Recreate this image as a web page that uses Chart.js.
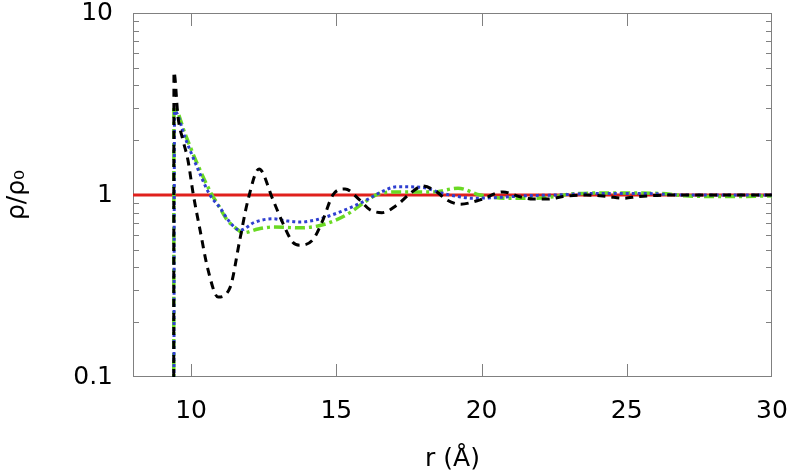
<!DOCTYPE html>
<html lang="en">
<head>
    <meta charset="UTF-8">
    <title>Density profile rho/rho0</title>
    <script src="https://cdn.jsdelivr.net/npm/chart.js"></script>
    <style>
        html, body { margin: 0; padding: 0; background: #fff; }
        #wrap { width: 792px; height: 472px; }
    </style>
</head>
<body>
    <div id="wrap"><canvas id="rhoChart" width="792" height="472"></canvas></div>
    <script>
        // axis ticks
        const xTicks = [10, 15, 20, 25, 30];
        const yTicks = [0.1, 1, 10];
        const yMinorTicks = [0.2, 0.3, 0.4, 0.5, 0.6, 0.7, 0.8, 0.9, 2, 3, 4, 5, 6, 7, 8, 9];

        // reference line rho/rho0 = 1
        const refX = [8, 30];
        const refY = [1, 1];

        // black dashed curve
        const blackX = [9.40, 9.41, 9.55, 9.72, 9.89, 10.07, 10.31, 10.58, 10.93, 11.34, 11.68, 11.96, 12.34, 12.82, 13.16, 13.5, 13.75, 14.2, 14.54, 14.88, 15.3, 15.8, 16.16, 16.57, 17.09, 17.54, 17.98, 18.46, 18.8, 19.26, 19.95, 20.74, 21.3, 21.77, 22.3, 22.8, 23.6, 24.35, 24.87, 25.4, 26.5, 28, 30];
        const blackY = [0.01, 4.74, 2.68, 2.0, 1.56, 1.02, 0.64, 0.39, 0.275, 0.31, 0.57, 0.94, 1.39, 0.94, 0.70, 0.55, 0.53, 0.57, 0.73, 1.0, 1.08, 0.94, 0.83, 0.80, 0.88, 1.02, 1.12, 1.04, 0.94, 0.89, 0.94, 1.04, 0.98, 0.95, 0.95, 0.98, 1.0, 0.98, 0.96, 0.98, 1.0, 1.0, 1.0];

        // blue dotted curve
        const blueX = [9.40, 9.43, 9.8, 10.2, 10.65, 11.0, 11.3, 11.68, 12.2, 12.82, 13.3, 13.75, 14.3, 14.88, 15.47, 16.05, 16.5, 17.09, 17.98, 18.57, 19.2, 19.7, 20.6, 21.5, 22.5, 24, 25.5, 27, 28.5, 30];
        const blueY = [0.01, 2.9, 2.05, 1.43, 1.0, 0.85, 0.72, 0.64, 0.71, 0.74, 0.72, 0.71, 0.73, 0.78, 0.85, 0.94, 1.03, 1.11, 1.10, 1.03, 0.98, 0.96, 0.97, 0.99, 1.0, 1.02, 1.02, 1.0, 1.0, 1.0];

        // green dash-dot curve
        const greenX = [9.40, 9.41, 9.8, 10.2, 10.72, 10.9, 11.24, 11.58, 11.79, 12.3, 12.82, 13.75, 14.44, 15.0, 15.47, 16.0, 16.5, 17.2, 18.33, 19.19, 19.95, 20.9, 21.8, 22.5, 23.0, 24.0, 25.0, 26.1, 27, 28.5, 30];
        const greenY = [0.01, 3.05, 2.15, 1.5, 1.0, 0.90, 0.73, 0.65, 0.62, 0.65, 0.667, 0.66, 0.68, 0.73, 0.80, 0.92, 1.02, 1.04, 1.04, 1.09, 1.0, 0.96, 0.96, 0.98, 1.01, 1.025, 1.025, 1.02, 0.99, 0.98, 0.99];

        const toPoints = (xs, ys) => xs.map((x, i) => ({ x: x, y: ys[i] }));

        const frameColor = '#808080';
        const tickFont = { family: 'DejaVu Sans', size: 25, lineHeight: 1 };
        const titleFont = { family: 'DejaVu Sans', size: 25, lineHeight: 1 };

        // frame with inward ticks on all four sides
        const framePlugin = {
            id: 'frame',
            beforeDatasetsDraw(chart) {
                const { ctx, chartArea: a, scales: { x, y } } = chart;
                ctx.save();
                ctx.strokeStyle = frameColor;
                ctx.lineWidth = 1;
                ctx.beginPath();
                xTicks.forEach(v => {
                    if (v <= x.min || v >= x.max) return;
                    const px = Math.round(x.getPixelForValue(v)) + 0.5;
                    ctx.moveTo(px, a.bottom); ctx.lineTo(px, a.bottom - 13);
                    ctx.moveTo(px, a.top); ctx.lineTo(px, a.top + 13);
                });
                yTicks.forEach(v => {
                    if (v <= y.min || v >= y.max) return;
                    const py = Math.round(y.getPixelForValue(v)) + 0.5;
                    ctx.moveTo(a.left, py); ctx.lineTo(a.left + 13, py);
                    ctx.moveTo(a.right, py); ctx.lineTo(a.right - 13, py);
                });
                yMinorTicks.forEach(v => {
                    const py = Math.round(y.getPixelForValue(v)) + 0.5;
                    ctx.moveTo(a.left, py); ctx.lineTo(a.left + 6, py);
                    ctx.moveTo(a.right, py); ctx.lineTo(a.right - 6, py);
                });
                ctx.stroke();
                ctx.strokeRect(Math.round(a.left) + 0.5, Math.round(a.top) + 0.5,
                    Math.round(a.width) - 1, Math.round(a.height) - 1);
                ctx.restore();
            }
        };

        new Chart(document.getElementById('rhoChart'), {
            type: 'line',
            data: {
                datasets: [
                    {
                        label: 'ref',
                        data: toPoints(refX, refY),
                        borderColor: '#e0201c',
                        borderWidth: 3,
                        order: 4
                    },
                    {
                        label: 'black',
                        data: toPoints(blackX, blackY),
                        borderColor: '#000000',
                        borderWidth: 3,
                        borderDash: [8, 6],
                        cubicInterpolationMode: 'monotone',
                        order: 1
                    },
                    {
                        label: 'blue',
                        data: toPoints(blueX, blueY),
                        borderColor: '#2f3fd0',
                        borderWidth: 3,
                        borderDash: [3, 3],
                        cubicInterpolationMode: 'monotone',
                        order: 2
                    },
                    {
                        label: 'green',
                        data: toPoints(greenX, greenY),
                        borderColor: '#6ad923',
                        borderWidth: 3.5,
                        borderDash: [10, 4, 3, 4],
                        cubicInterpolationMode: 'monotone',
                        order: 3
                    }
                ]
            },
            options: {
                responsive: false,
                animation: false,
                events: [],
                layout: { padding: { top: 13, right: 20, left: 0, bottom: 0 } },
                elements: { point: { radius: 0 } },
                plugins: {
                    legend: { display: false },
                    tooltip: { enabled: false }
                },
                scales: {
                    x: {
                        type: 'linear',
                        min: 8,
                        max: 30,
                        grid: { display: false, drawTicks: false },
                        border: { display: false },
                        afterBuildTicks: s => { s.ticks = xTicks.map(v => ({ value: v })); },
                        afterFit: s => { s.height = 95; s.paddingLeft = 0; s.paddingRight = 0; },
                        ticks: { color: '#000', font: tickFont, padding: 22, maxRotation: 0 },
                        title: {
                            display: true,
                            text: 'r (Å)',
                            color: '#000',
                            font: titleFont,
                            padding: { top: 0, bottom: 0 }
                        }
                    },
                    y: {
                        type: 'logarithmic',
                        min: 0.1,
                        max: 10,
                        grid: { display: false, drawTicks: false },
                        border: { display: false },
                        afterBuildTicks: s => { s.ticks = yTicks.map(v => ({ value: v })); },
                        afterFit: s => { s.width = 133; s.paddingTop = 0; s.paddingBottom = 0; },
                        ticks: { color: '#000', font: tickFont, padding: 20, callback: v => String(v) },
                        title: {
                            display: true,
                            text: 'ρ/ρ₀',
                            color: '#000',
                            font: titleFont,
                            padding: { top: 5, bottom: 0 }
                        }
                    }
                }
            },
            plugins: [framePlugin]
        });
    </script>
</body>
</html>
